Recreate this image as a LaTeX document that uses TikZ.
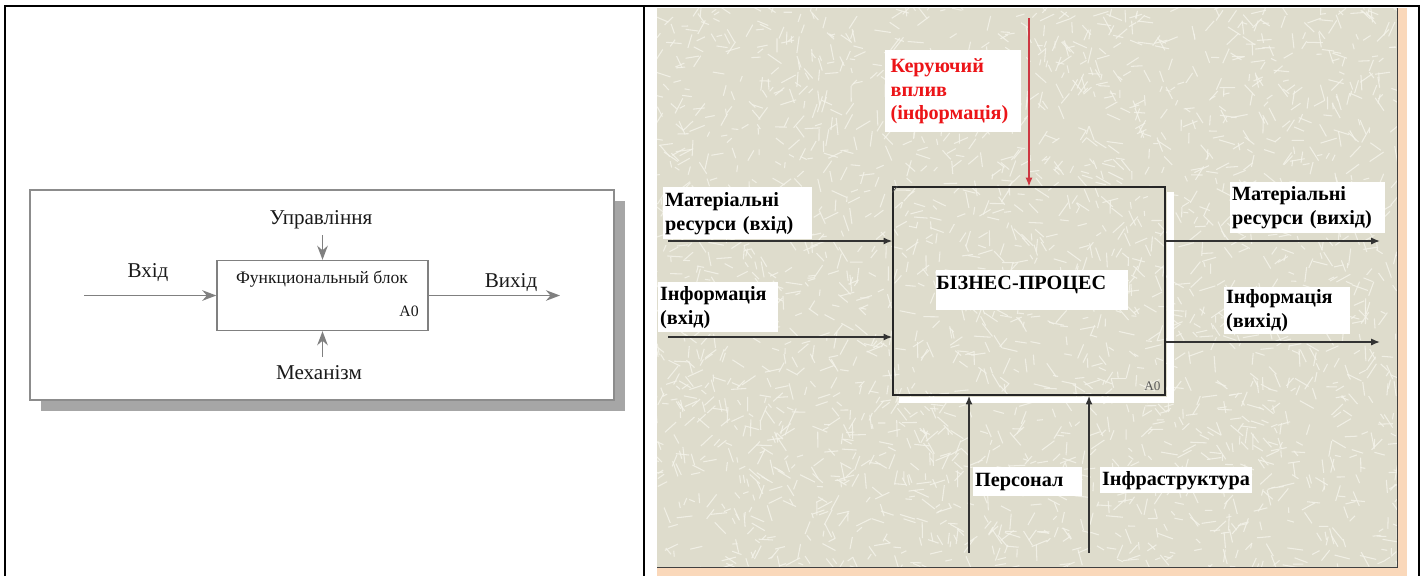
\documentclass[tikz,border=0pt]{standalone}
\usepackage{fontspec}
\setmainfont{Liberation Serif}
\definecolor{idef_paper}{RGB}{222, 220, 204}
\definecolor{idef_grain}{RGB}{244, 243, 234}
\definecolor{idef_peach}{RGB}{250, 216, 186}
\definecolor{idef_red}{RGB}{236, 20, 24}
\definecolor{idef_redline}{RGB}{205, 55, 65}
\definecolor{idef_line}{RGB}{50, 50, 50}
\usepackage{tikz}
\usetikzlibrary{arrows.meta, positioning, calc}

\begin{document}
\begin{tikzpicture}[x=0.02cm, y=-0.02cm,
    gflow/.style={draw=gray, line width=1pt, -{Stealth[length=8pt, width=6pt]}},
    glabel/.style={text=black!90, font=\fontsize{12}{14}\selectfont, inner sep=0pt},
    fblock/.style={draw=gray, line width=0.8pt, fill=white},
    flow/.style={draw=idef_line, line width=0.85pt, -{Latex[length=5pt, width=4pt]}},
    ctrl/.style={draw=idef_redline, line width=0.6pt, -{Latex[length=5pt, width=4pt]}},
    wlabel/.style={fill=white, anchor=north west, align=left, inner ysep=0pt, inner xsep=1pt,
                   font=\bfseries\fontsize{11.5}{13.6}\selectfont},
    grain/.style={draw=idef_grain, line width=0.6pt, opacity=0.85}]
  \useasboundingbox (0,0) rectangle (1422,576);

  % left cell: IDEF0 scheme
  \fill[gray!70] (41,201) rectangle (625,411);
  \draw[draw=gray!90, line width=0.9pt, fill=white] (30,190) rectangle (614,400);
  \node[fblock, minimum width=4.22cm, minimum height=1.4cm] (fb) at (322.5,295.5) {};
  \node[glabel, font=\fontsize{10}{12}\selectfont] (fbname) at (322,279) {Функциональный блок};
  \node[glabel, font=\fontsize{9}{11}\selectfont] (fbnum) at (409,311) {A0};
  \coordinate (vin) at (84,295.5);
  \coordinate (vout) at (560,295.5);
  \coordinate (upr) at (322.5,235);
  \coordinate (mech) at (322.5,357);
  \draw[gflow] (vin) -- (fb.west);
  \draw[gflow] (fb.east) -- (vout);
  \draw[gflow] (upr) -- (fb.north);
  \draw[gflow] (mech) -- (fb.south);
  \node[glabel] (lvin) at (148,273) {Вхід};
  \node[glabel] (lvout) at (511,283) {Вихід};
  \node[glabel] (lupr) at (321,220) {Управління};
  \node[glabel] (lmech) at (319,373) {Механізм};

  % right cell: textured sheet
  \begin{scope}
    \clip (657,8) rectangle (1397,567);
    \fill[idef_paper] (657,8) rectangle (1397,567);
    \pgfmathsetseed{42}
    \foreach \k in {1,...,2600}{
      \pgfmathsetmacro{\gx}{650+755*rnd}
      \pgfmathsetmacro{\gy}{2+572*rnd}
      \pgfmathsetmacro{\ga}{360*rnd}
      \pgfmathsetmacro{\gl}{5+12*rnd}
      \draw[grain] (\gx,\gy) -- ++(\ga:\gl);
    }
  \end{scope}
  \fill[idef_peach] (1398,8) rectangle (1407,576);
  \fill[idef_peach] (657,568) rectangle (1407,576);
  \draw[gray!50!black, line width=0.5pt] (1397.5,8) -- (1397.5,567.5) -- (657,567.5);

  % business process block
  \node[draw=black!85, line width=0.8pt, minimum width=5.44cm, minimum height=4.16cm] (bp) at (1029,291) {};
  \fill[white] ($(bp.north east)+(1,6)$) rectangle ($(bp.south east)+(8,7)$);
  \fill[white] ($(bp.south west)+(7,1)$) rectangle ($(bp.south east)+(8,7)$);
  \draw[black!70, line width=0.4pt] ($(bp.north west)+(0,6)$) -- ++(5,-6);
  \node[anchor=south east, inner sep=1pt, text=black!65, font=\fontsize{7.5}{9}\selectfont] (bpnum)
    at ($(bp.south east)+(-3,-3)$) {A0};
  \node[wlabel, inner xsep=0pt, text width=108.8pt, minimum height=22.7pt, text height=11pt, text depth=11.7pt]
    (bpname) at (936,270) {БІЗНЕС-ПРОЦЕС};

  % arrows
  \coordinate (kv) at (1029,18);
  \coordinate (mi) at (668,241);
  \coordinate (ii) at (668,337);
  \coordinate (mo) at (1380,241);
  \coordinate (io) at (1380,342);
  \coordinate (pers) at (969,553);
  \coordinate (infra) at (1089,553);
  \draw[ctrl] (kv) -- (bp.north);
  \draw[flow] (mi) -- (mi -| bp.west);
  \draw[flow] (ii) -- (ii -| bp.west);
  \draw[flow] (mo -| bp.east) -- (mo);
  \draw[flow] (io -| bp.east) -- (io);
  \draw[flow] (pers) -- (pers |- bp.south);
  \draw[flow] (infra) -- (infra |- bp.south);

  % labels
  \node[wlabel, text=idef_red, inner xsep=3pt, text width=71.1pt, minimum height=46.5pt]
    (lkv) at (885,50) {Керуючий\\вплив\\(інформація)};
  \node[wlabel, text width=82.5pt, minimum height=29.5pt] (lmi) at (663,187) {Матеріальні\\ресурси (вхід)};
  \node[wlabel, text width=66pt, minimum height=28.3pt] (lii) at (658,282) {Інформація\\(вхід)};
  \node[wlabel, text width=85.9pt, minimum height=28.9pt] (lmo) at (1230,182) {Матеріальні\\ресурси (вихід)};
  \node[wlabel, text width=69.4pt, minimum height=26.6pt] (lio) at (1224,287) {Інформація\\(вихід)};
  \node[wlabel, text width=59.8pt, minimum height=16.4pt] (lpers) at (973,467) {Персонал};
  \node[wlabel, text width=84.2pt, minimum height=14.7pt] (linfra) at (1100,467) {Інфраструктура};

  % table rules
  \draw[line width=1.4pt] (5,576) -- (5,6) -- (1419,6) -- (1419,576);
  \draw[line width=1.4pt] (644,6) -- (644,576);
\end{tikzpicture}
\end{document}
